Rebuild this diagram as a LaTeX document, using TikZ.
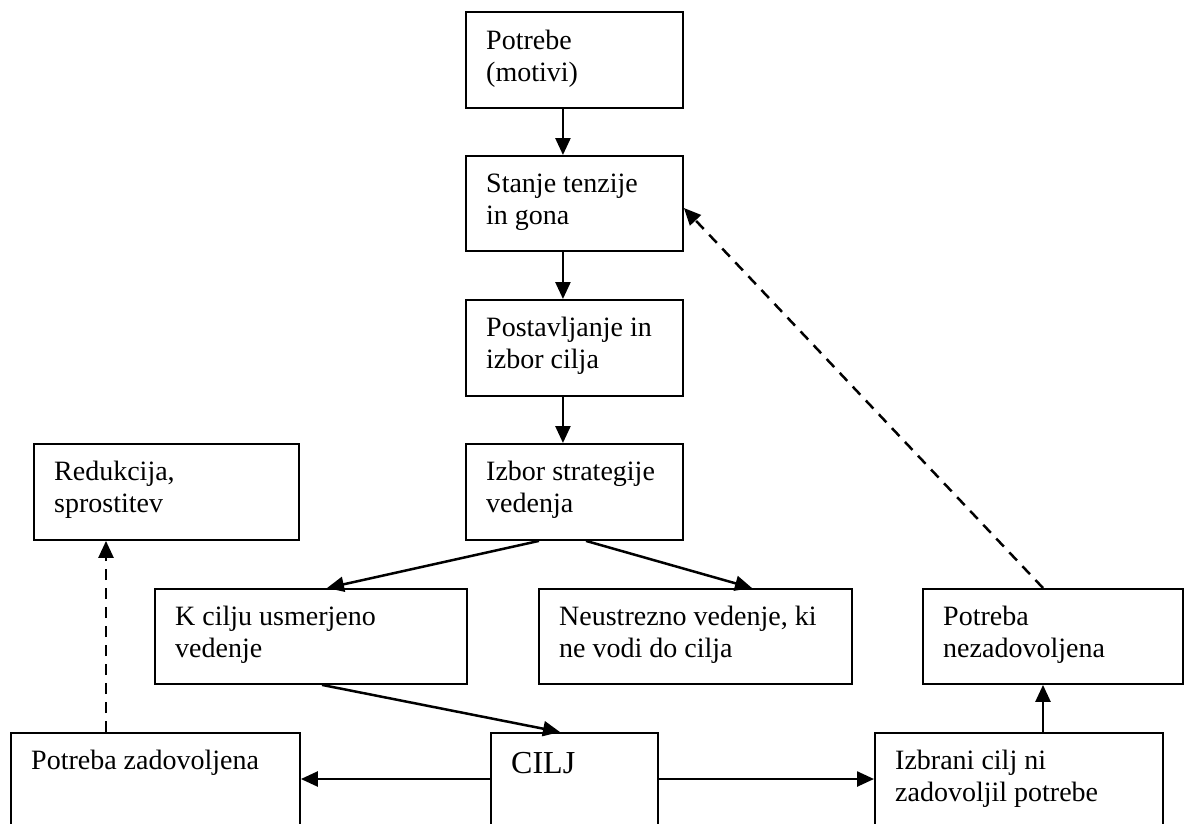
\documentclass[tikz,border=0pt]{standalone}
\usepackage{fontspec}
\setmainfont{Liberation Serif}
\usetikzlibrary{arrows.meta}
\tikzset{
  boxnode/.style={draw, line width=1.9pt, inner sep=0pt, anchor=north west},
  txt/.style={anchor=base west, inner sep=0pt, font=\fontsize{28pt}{32pt}\selectfont},
  arr/.style={line width=2.5pt, -{Triangle[length=17pt,width=15pt]}},
  darr/.style={arr, dash pattern=on 11pt off 8pt}
}
\newcommand{\twolines}[2]{\begin{tabular}[t]{@{}l@{}}#1\\#2\end{tabular}}
\begin{document}
\begin{tikzpicture}[x=1pt,y=-1pt]
\useasboundingbox (0,0) rectangle (1184,823);
\clip (0,0) rectangle (1184,823);
% boxes
\node[boxnode, minimum width=217pt, minimum height=96pt] (b1) at (465,11) {};
\node[boxnode, minimum width=217pt, minimum height=95pt] (b2) at (465,155) {};
\node[boxnode, minimum width=217pt, minimum height=96pt] (b3) at (465,299) {};
\node[boxnode, minimum width=217pt, minimum height=96pt] (b4) at (465,443) {};
\node[boxnode, minimum width=265pt, minimum height=96pt] (r) at (33,443) {};
\node[boxnode, minimum width=312pt, minimum height=95pt] (k) at (154,588) {};
\node[boxnode, minimum width=313pt, minimum height=95pt] (n) at (538,588) {};
\node[boxnode, minimum width=260pt, minimum height=95pt] (pn) at (922,588) {};
\node[boxnode, minimum width=289pt, minimum height=130pt] (pz) at (10,732) {};
\node[boxnode, minimum width=167pt, minimum height=130pt] (c) at (490,732) {};
\node[boxnode, minimum width=288pt, minimum height=130pt] (i) at (874,732) {};
% texts
\node[txt] (t1) at ([xshift=21pt,yshift=-38pt]b1.north west) {\twolines{Potrebe}{(motivi)}};
\node[txt] (t2) at ([xshift=21pt,yshift=-37pt]b2.north west) {\twolines{Stanje tenzije}{in gona}};
\node[txt] (t3) at ([xshift=21pt,yshift=-37pt]b3.north west) {\twolines{Postavljanje in}{izbor cilja}};
\node[txt] (t4) at ([xshift=21pt,yshift=-37pt]b4.north west) {\twolines{Izbor strategije}{vedenja}};
\node[txt] (tr) at ([xshift=21pt,yshift=-37pt]r.north west) {\twolines{Redukcija,}{sprostitev}};
\node[txt] (tk) at ([xshift=21pt,yshift=-37pt]k.north west) {\twolines{K cilju usmerjeno}{vedenje}};
\node[txt] (tn) at ([xshift=21pt,yshift=-37pt]n.north west) {\twolines{Neustrezno vedenje, ki}{ne vodi do cilja}};
\node[txt] (tpn) at ([xshift=21pt,yshift=-37pt]pn.north west) {\twolines{Potreba}{nezadovoljena}};
\node[txt] (tpz) at ([xshift=21pt,yshift=-37pt]pz.north west) {Potreba zadovoljena};
\node[txt, font=\fontsize{32pt}{36pt}\selectfont] (tc) at ([xshift=21pt,yshift=-41pt]c.north west) {CILJ};
\node[txt] (ti) at ([xshift=21pt,yshift=-37pt]i.north west) {\twolines{Izbrani cilj ni}{zadovoljil potrebe}};
% connectors
\draw[arr] ([xshift=-11.5pt]b1.south) -- ([xshift=-11.5pt]b2.north);
\draw[arr] ([xshift=-11.5pt]b2.south) -- ([xshift=-11.5pt]b3.north);
\draw[arr] ([xshift=-11.5pt]b3.south) -- ([xshift=-11.5pt]b4.north);
\draw[arr] ([xshift=74pt]b4.south west) -- ([xshift=173pt]k.north west);
\draw[arr] ([xshift=121pt]b4.south west) -- ([xshift=214pt]n.north west);
\draw[arr] ([xshift=168pt]k.south west) -- ([xshift=70pt]c.north west);
\draw[arr] ([yshift=-47pt]c.north west) -- ([yshift=-47pt]pz.north east);
\draw[arr] ([yshift=-47pt]c.north east) -- ([yshift=-47pt]i.north west);
\draw[arr] ([xshift=169pt]i.north west) -- ([xshift=121pt]pn.south west);
\draw[darr] ([xshift=121pt]pn.north west) -- ([yshift=-53pt]b2.north east);
\draw[darr] ([xshift=96pt]pz.north west) -- ([xshift=73pt]r.south west);
\end{tikzpicture}
\end{document}
